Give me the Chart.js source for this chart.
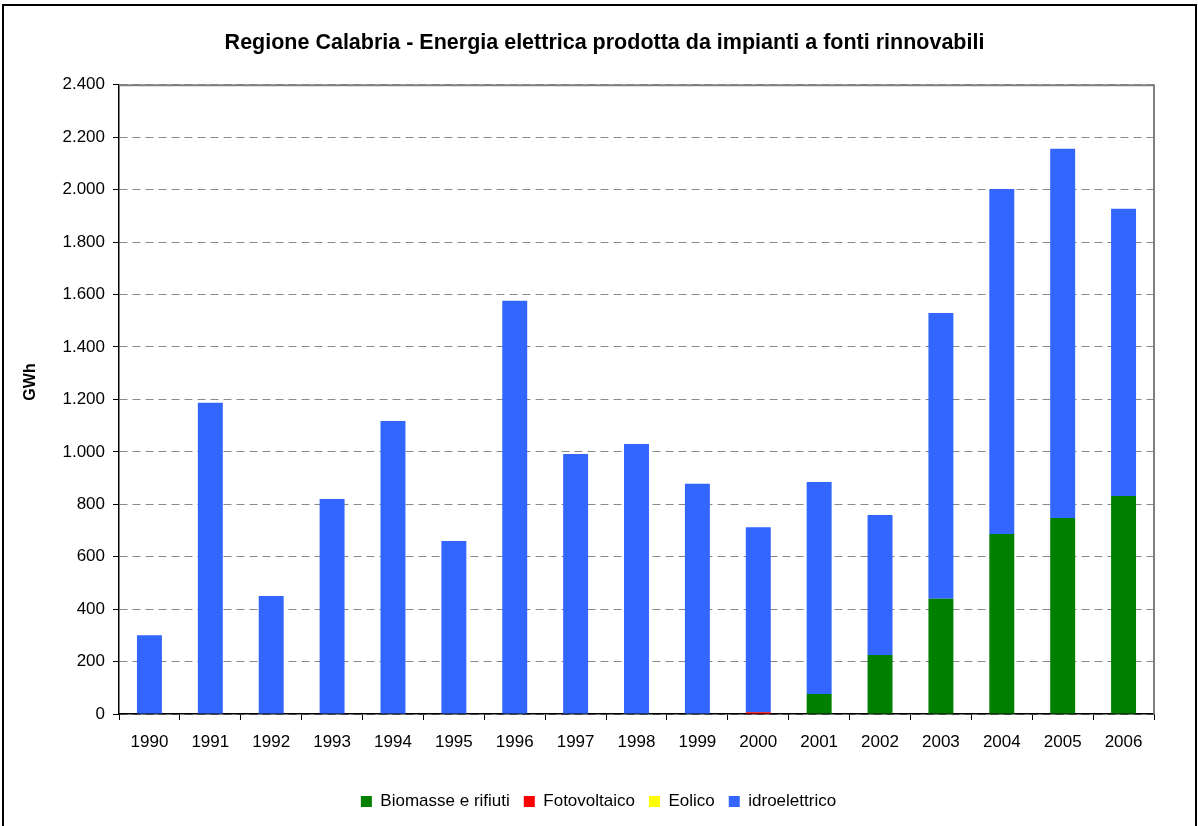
<!DOCTYPE html>
<html>
<head>
<meta charset="utf-8">
<script src="https://cdn.jsdelivr.net/npm/chart.js@4/dist/chart.umd.min.js"></script>
<style>
  html, body { margin: 0; padding: 0; background: #fff; }
  #wrap { width: 1198px; height: 826px; position: relative; }
</style>
</head>
<body>
<div id="wrap"><canvas id="c" width="1198" height="826"></canvas></div>
<script>
const years = ['1990','1991','1992','1993','1994','1995','1996','1997','1998','1999','2000','2001','2002','2003','2004','2005','2006'];
const biomasse = [0,0,0,0,0,0,0,0,0,0,0,76,225,440,687,748,832];
const fotovoltaico = [0,0,0,0,0,0,0,0,0,0,7,0,0,0,0,0,0];
const eolico = [0,0,0,0,0,0,0,0,0,0,0,0,0,0,0,0,0];
const idroelettrico = [300,1187,450,820,1118,660,1576,992,1030,878,705,809,534,1090,1316,1408,1095];
const yTicks = [0,200,400,600,800,1000,1200,1400,1600,1800,2000,2200,2400];
const yAxisTitle = 'GWh';

const fmt = v => String(v).replace(/\B(?=(\d{3})+(?!\d))/g, '.');
const FONT = "'Liberation Sans', Arial, sans-serif";

const framePlugin = {
  id: 'frame',
  afterLayout(chart) {
    if (chart.titleBlock) { chart.titleBlock.left += 16; chart.titleBlock.right += 16; }
    if (chart.legend) { chart.legend.left += 10; chart.legend.right += 10; }
  },
  beforeDraw(chart) {
    const ctx = chart.ctx;
    ctx.save();
    ctx.fillStyle = '#fff';
    ctx.fillRect(0, 0, chart.width, chart.height);
    ctx.strokeStyle = '#000';
    ctx.lineWidth = 2;
    ctx.strokeRect(3, 5, 1193, 830);
    ctx.restore();
  },
  afterDatasetsDraw(chart) {
    const a = chart.chartArea, ctx = chart.ctx;
    ctx.save();
    ctx.strokeStyle = '#808080';
    ctx.lineWidth = 2;
    ctx.beginPath();
    ctx.moveTo(a.left, a.top + 0.5);
    ctx.lineTo(a.right, a.top + 0.5);
    ctx.lineTo(a.right, a.bottom);
    ctx.stroke();
    ctx.restore();
  },
  afterDraw(chart) {
    const ctx = chart.ctx;
    ctx.save();
    ctx.translate(31, 382);
    ctx.rotate(-Math.PI / 2);
    ctx.font = "bold 16px " + FONT;
    ctx.fillStyle = '#000';
    ctx.textAlign = 'center';
    ctx.textBaseline = 'middle';
    ctx.fillText(yAxisTitle, 0, 0);
    ctx.restore();
  }
};

new Chart(document.getElementById('c'), {
  type: 'bar',
  data: {
    labels: years,
    datasets: [
      { label: 'Biomasse e rifiuti', data: biomasse, backgroundColor: '#008000' },
      { label: 'Fotovoltaico', data: fotovoltaico, backgroundColor: '#FF0000' },
      { label: 'Eolico', data: eolico, backgroundColor: '#FFFF00' },
      { label: 'idroelettrico', data: idroelettrico, backgroundColor: '#3366FF' }
    ]
  },
  options: {
    responsive: false,
    animation: false,
    devicePixelRatio: 1,
    datasets: { bar: { categoryPercentage: 0.41, barPercentage: 1.0, borderWidth: 0 } },
    layout: { padding: { top: 11, left: 23, right: 44, bottom: 6 } },
    plugins: {
      title: {
        display: true,
        text: 'Regione Calabria - Energia elettrica prodotta da impianti a fonti rinnovabili',
        color: '#000',
        font: { family: FONT, size: 21.5, weight: 'bold' },
        padding: { top: 19, bottom: 29 }
      },
      legend: {
        position: 'bottom',
        labels: {
          color: '#000',
          font: { family: FONT, size: 17 },
          boxWidth: 11, boxHeight: 11,
          padding: 14
        }
      },
      tooltip: { enabled: false }
    },
    scales: {
      x: {
        stacked: true,
        afterFit(scale) { scale.height = 65; },
        grid: { display: true, drawOnChartArea: false, offset: true, tickLength: 6, tickColor: '#000', color: '#000' },
        border: { display: true, color: '#000', width: 1.5 },
        ticks: { color: '#000', font: { family: FONT, size: 17 }, padding: 12, maxRotation: 0 }
      },
      y: {
        stacked: true,
        min: 0, max: 2400,
        afterFit(scale) { scale.width = 96; },
        afterBuildTicks(scale) { scale.ticks = yTicks.map(v => ({ value: v })); },
        grid: { color: '#888', lineWidth: 1, tickLength: 6, tickColor: '#000', tickBorderDash: [] },
        border: { display: true, color: '#000', width: 1.5, dash: [8, 5] },
        ticks: { color: '#000', font: { family: FONT, size: 17 }, padding: 8, callback: v => fmt(v) },
        title: { display: false, text: yAxisTitle }
      }
    }
  },
  plugins: [framePlugin]
});
</script>
</body>
</html>
